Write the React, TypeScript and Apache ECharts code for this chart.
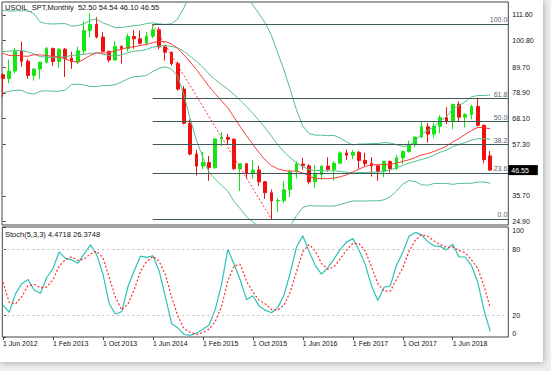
import React, { useEffect, useRef } from "react";
import * as echarts from "echarts";

// ---- symbol / header ----
const symbolName = "USOIL_SPT";
const timeframe = "Monthly";
const stochTitle = "Stoch(5,3,3)";
const stochMainText = "4.4718";
const stochSignalText = "26.3748";

// ---- months (first bar: Jun 2012) ----
const monthNames = ["Jan", "Feb", "Mar", "Apr", "May", "Jun", "Jul", "Aug", "Sep", "Oct", "Nov", "Dec"];
const firstYear = 2012;
const firstMonth = 5;

// ---- monthly candles Jun 2012 .. Dec 2018 ----
const opens = [
  86.53, 84.96, 88.06, 96.47, 92.19, 86.24, 88.91, 91.82, 97.49, 92.05,
  97.23, 93.46, 91.97, 96.56, 105.03, 107.65, 102.33, 96.38, 92.72, 98.42,
  97.49, 102.59, 101.58, 99.74, 102.71, 105.37, 98.17, 95.96, 91.16, 80.54,
  66.15, 53.27, 48.24, 49.76, 47.6, 59.63, 60.3, 59.47, 47.12, 49.2,
  45.09, 46.59, 41.65, 37.04, 33.62, 33.75, 38.34, 45.92, 49.1, 48.33,
  41.6, 44.7, 48.24, 46.86, 49.44, 53.72, 52.81, 54.01, 50.6, 49.33,
  48.32, 46.04, 50.17, 47.23, 51.67, 54.38, 57.4, 60.42, 64.73, 61.64,
  64.94, 68.57, 67.04, 74.15, 68.76, 69.8, 73.25, 65.31, 52.5,
];
const highs = [
  87.1, 92.94, 97.75, 100.42, 93.05, 89.33, 91.98, 98.24, 98.0, 97.7,
  97.8, 96.1, 98.3, 108.9, 112.24, 110.7, 104.4, 96.5, 100.75, 98.8,
  103.76, 105.2, 104.99, 104.5, 107.68, 106.4, 98.6, 96.2, 92.0, 81.8,
  67.8, 55.1, 54.24, 52.48, 59.9, 62.58, 61.8, 59.9, 49.3, 49.5,
  50.9, 48.4, 42.0, 38.4, 34.8, 41.9, 46.8, 50.2, 51.7, 49.0,
  48.7, 48.4, 51.9, 50.3, 54.5, 55.2, 54.9, 54.6, 53.8, 52.0,
  48.9, 50.4, 50.6, 52.9, 54.8, 59.0, 60.51, 66.66, 66.3, 66.6,
  69.56, 72.9, 74.3, 75.3, 70.4, 73.9, 76.9, 65.7, 54.54,
];
const lows = [
  77.28, 83.0, 87.0, 89.9, 84.9, 84.05, 84.7, 91.3, 90.33, 89.3,
  85.6, 89.0, 91.0, 95.3, 102.2, 101.7, 95.9, 91.77, 92.5, 91.24,
  96.3, 97.4, 99.2, 98.7, 101.9, 97.2, 92.5, 90.4, 79.8, 65.7,
  52.7, 44.2, 47.0, 42.03, 47.0, 56.5, 57.5, 46.7, 37.75, 43.2,
  43.0, 39.9, 34.5, 26.05, 29.0, 32.6, 35.2, 43.0, 46.7, 40.6,
  39.2, 42.5, 46.0, 42.2, 49.1, 50.7, 51.2, 47.1, 48.2, 43.8,
  42.05, 43.6, 45.6, 46.5, 49.1, 53.8, 56.1, 59.9, 58.1, 60.1,
  62.0, 65.8, 63.6, 67.0, 64.4, 67.8, 64.8, 49.4, 46.1,
];
const closes = [
  84.96, 88.06, 96.47, 92.19, 86.24, 88.91, 91.82, 97.49, 92.05, 97.23,
  93.46, 91.97, 96.56, 105.03, 107.65, 102.33, 96.38, 92.72, 98.42, 97.49,
  102.59, 101.58, 99.74, 102.71, 105.37, 98.17, 95.96, 91.16, 80.54, 66.15,
  53.27, 48.24, 49.76, 47.6, 59.63, 60.3, 59.47, 47.12, 49.2, 45.09,
  46.59, 41.65, 37.04, 33.62, 33.75, 38.34, 45.92, 49.1, 48.33, 41.6,
  44.7, 48.24, 46.86, 49.44, 53.72, 52.81, 54.01, 50.6, 49.33, 48.32,
  46.04, 50.17, 47.23, 51.67, 54.38, 57.4, 60.42, 64.73, 61.64, 64.94,
  68.57, 67.04, 74.15, 68.76, 69.8, 73.25, 65.31, 50.93, 46.55,
];

// ---- history before the first visible bar (indicator warm-up) ----
// closes Nov 2010 .. May 2012
const preCloses = [
  84.11, 91.38, 92.19, 96.97, 106.72, 113.93, 102.7, 95.42, 95.7, 88.81,
  79.2, 93.19, 100.36, 98.83, 98.48, 107.07, 103.02, 104.87, 86.53,
];
// highs / lows Oct 2011 .. May 2012
const preHighs = [94.65, 103.37, 102.44, 103.74, 109.95, 110.55, 106.2, 106.9];
const preLows = [74.95, 89.77, 92.52, 97.0, 96.0, 102.0, 100.7, 84.1];

// ---- axis marks ----
const priceTicks = [24.9, 35.7, 57.3, 68.1, 78.9, 89.7, 100.8, 111.6];
const stochTicks = [0, 20, 80, 100];
const stochLevels = [20, 80];
const fibRatios = [0, 0.236, 0.382, 0.5, 0.618, 1];
const fibHighIndex = 24;
const fibLowIndex = 43;
const dateLabelStep = 8;

// ---- derived ----
const categories = closes.map((_, i) => {
  const m = firstMonth + i;
  return `${monthNames[m % 12]} ${firstYear + Math.floor(m / 12)}`;
});
const dateIdx = categories.map((_, i) => i).filter((i) => i % dateLabelStep === 0);

const allCloses = [...preCloses, ...closes];
const off = preCloses.length;
const sma = (p: number) =>
  closes.map((_, i) => {
    const j = i + off;
    let s = 0;
    for (let k = j - p + 1; k <= j; k++) s += allCloses[k];
    return s / p;
  });
const mid = sma(20);
const ma14 = sma(14);
const sd = closes.map((_, i) => {
  const j = i + off;
  let s = 0;
  for (let k = j - 19; k <= j; k++) s += (allCloses[k] - mid[i]) ** 2;
  return Math.sqrt(s / 20);
});
const upper = mid.map((m, i) => m + 2 * sd[i]);
const lower = mid.map((m, i) => m - 2 * sd[i]);

const stH = [...preHighs, ...highs];
const stL = [...preLows, ...lows];
const stC = [...preCloses.slice(-preHighs.length), ...closes];
const so = preHighs.length;
const num: number[] = [];
const den: number[] = [];
const K: number[] = [];
const D: number[] = [];
for (let j = 0; j < stC.length; j++) {
  if (j >= 4) {
    let hh = -Infinity;
    let ll = Infinity;
    for (let k = j - 4; k <= j; k++) {
      hh = Math.max(hh, stH[k]);
      ll = Math.min(ll, stL[k]);
    }
    num[j] = stC[j] - ll;
    den[j] = hh - ll;
  }
  if (j >= 6) {
    const n = num[j] + num[j - 1] + num[j - 2];
    const d = den[j] + den[j - 1] + den[j - 2];
    K[j] = (100 * n) / d;
  }
  if (j >= 8) D[j] = (K[j] + K[j - 1] + K[j - 2]) / 3;
}
const stochMain = closes.map((_, i) => [i, K[i + so]]);
const stochSignal = closes.map((_, i) => [i, D[i + so]]);

const fibHigh = highs[fibHighIndex];
const fibLow = lows[fibLowIndex];
const last = closes.length - 1;

const xMin = -0.112;
const xMax = 80.896;
const FONT = "Liberation Sans";

const fibLines = fibRatios.map((r) => {
  const v = fibLow + r * (fibHigh - fibLow);
  return [
    {
      coord: [fibHighIndex, v],
      lineStyle: { color: "#3f5858", width: 1, type: "solid" },
      label: {
        show: true,
        position: "insideEndTop",
        formatter: (r * 100).toFixed(1),
        color: "#5a6470",
        fontSize: 7,
        fontFamily: FONT,
        distance: 1,
      },
    },
    { coord: [xMax, v] },
  ];
});

const option: any = {
  animation: false,
  textStyle: { fontFamily: FONT, fontSize: 7 },
  grid: [
    { left: 2, top: 2, width: 506.3, height: 223, show: true, borderColor: "#444", borderWidth: 1 },
    { left: 2, top: 227, width: 506.3, height: 110, show: true, borderColor: "#444", borderWidth: 1 },
  ],
  xAxis: [
    { type: "value", gridIndex: 0, min: xMin, max: xMax, show: false },
    {
      type: "value",
      gridIndex: 1,
      min: xMin,
      max: xMax,
      axisLine: { show: false },
      splitLine: { show: false },
      axisTick: { show: true, customValues: dateIdx, length: 3, lineStyle: { color: "#444" } },
      axisLabel: {
        customValues: dateIdx,
        formatter: (v: number) => "1 " + categories[Math.round(v)],
        align: "left",
        margin: 3,
        color: "#111",
        fontSize: 7,
        fontFamily: FONT,
      },
    },
  ],
  yAxis: [
    {
      type: "value",
      gridIndex: 0,
      min: 23.53,
      max: 117.03,
      position: "right",
      axisLine: { show: false },
      splitLine: { show: false },
      axisTick: { show: true, customValues: priceTicks, length: 3, lineStyle: { color: "#444" } },
      axisLabel: {
        customValues: priceTicks,
        formatter: (v: number) => v.toFixed(2),
        margin: 4,
        color: "#111",
        fontSize: 7,
        fontFamily: FONT,
      },
    },
    {
      type: "value",
      gridIndex: 1,
      min: 0,
      max: 100,
      position: "right",
      axisLine: { show: false },
      splitLine: { show: false },
      axisTick: { show: true, customValues: stochTicks, length: 3, lineStyle: { color: "#444" } },
      axisLabel: {
        customValues: stochTicks,
        margin: 4,
        color: "#111",
        fontSize: 7,
        fontFamily: FONT,
        verticalAlignMinLabel: "bottom",
        verticalAlignMaxLabel: "top",
      },
    },
  ],
  graphic: [
    {
      type: "text",
      left: 5,
      top: 3,
      style: {
        text: `${symbolName},${timeframe}  ${opens[last].toFixed(2)} ${highs[last].toFixed(2)} ${lows[last].toFixed(2)} ${closes[last].toFixed(2)}`,
        fontSize: 7.5,
        fontFamily: FONT,
        fill: "#111",
      },
    },
    {
      type: "text",
      left: 5,
      top: 230,
      style: {
        text: `${stochTitle} ${stochMainText} ${stochSignalText}`,
        fontSize: 7.5,
        fontFamily: FONT,
        fill: "#111",
      },
    },
  ],
  series: [
    {
      type: "line",
      name: "BB upper",
      xAxisIndex: 0,
      yAxisIndex: 0,
      data: upper.map((v, i) => [i, v]),
      symbol: "none",
      lineStyle: { color: "#55c08c", width: 1 },
      silent: true,
    },
    {
      type: "line",
      name: "BB mid",
      xAxisIndex: 0,
      yAxisIndex: 0,
      data: mid.map((v, i) => [i, v]),
      symbol: "none",
      lineStyle: { color: "#55c08c", width: 1 },
      silent: true,
    },
    {
      type: "line",
      name: "BB lower",
      xAxisIndex: 0,
      yAxisIndex: 0,
      data: lower.map((v, i) => [i, v]),
      symbol: "none",
      lineStyle: { color: "#55c08c", width: 1 },
      silent: true,
    },
    {
      type: "line",
      name: "MA",
      xAxisIndex: 0,
      yAxisIndex: 0,
      data: ma14.map((v, i) => [i, v]),
      symbol: "none",
      lineStyle: { color: "#ff3a3a", width: 1 },
      silent: true,
    },
    {
      type: "candlestick",
      name: symbolName,
      xAxisIndex: 0,
      yAxisIndex: 0,
      data: closes.map((c, i) => [i, opens[i], c, lows[i], highs[i]]),
      encode: { x: 0, y: [1, 2, 3, 4] },
      barWidth: 3.4,
      itemStyle: {
        color: "#14e614",
        color0: "#f01010",
        borderColor: "#14e614",
        borderColor0: "#f01010",
        borderWidth: 1,
      },
      markLine: {
        silent: true,
        symbol: ["none", "none"],
        animation: false,
        data: [
          ...fibLines,
          [
            {
              coord: [fibHighIndex, fibHigh],
              lineStyle: { color: "#ff3030", width: 1, type: [2, 2] },
              label: { show: false },
            },
            { coord: [fibLowIndex, fibLow] },
          ],
        ],
      },
    },
    {
      type: "line",
      name: "Bid",
      xAxisIndex: 0,
      yAxisIndex: 0,
      clip: false,
      data: [[last, closes[last]]],
      symbol: "none",
      lineStyle: { opacity: 0 },
      silent: true,
      markLine: {
        silent: true,
        symbol: ["none", "none"],
        animation: false,
        lineStyle: { color: "rgba(0,0,0,0)", width: 0 },
        data: [
          {
            yAxis: closes[last],
            label: {
              show: true,
              position: "end",
              formatter: closes[last].toFixed(2),
              backgroundColor: "#000",
              color: "#fff",
              padding: [2, 9, 1, 3],
              distance: 0,
              fontSize: 7,
              fontFamily: FONT,
            },
          },
        ],
      },
    },
    {
      type: "line",
      name: "Stoch main",
      xAxisIndex: 1,
      yAxisIndex: 1,
      data: stochMain,
      symbol: "none",
      lineStyle: { color: "#2fc2b6", width: 1.2 },
      silent: true,
      markLine: {
        silent: true,
        symbol: ["none", "none"],
        label: { show: false },
        lineStyle: { color: "#bdbdbd", width: 1, type: [2, 3] },
        data: stochLevels.map((v) => ({ yAxis: v })),
      },
    },
    {
      type: "line",
      name: "Stoch signal",
      xAxisIndex: 1,
      yAxisIndex: 1,
      data: stochSignal,
      symbol: "none",
      lineStyle: { color: "#ff2a2a", width: 1.2, type: [2, 2] },
      silent: true,
    },
  ],
};

export default function App() {
  const ref = useRef<HTMLDivElement>(null);
  useEffect(() => {
    if (!ref.current) return;
    const chart = echarts.init(ref.current, null, { renderer: "svg" });
    chart.setOption(option);
    return () => chart.dispose();
  }, []);
  return (
    <div
      style={{
        position: "fixed",
        left: 0,
        top: 0,
        width: 551,
        height: 371,
        background: "#eeeeee",
        overflow: "hidden",
      }}
    >
      <div
        style={{
          position: "absolute",
          left: 0,
          top: 0,
          width: 543,
          height: 362,
          background: "#ffffff",
          boxShadow: "1px 1px 6px rgba(0,0,0,0.28)",
        }}
      />
      <div ref={ref} style={{ position: "absolute", left: 0, top: 0, width: 551, height: 371 }} />
    </div>
  );
}
